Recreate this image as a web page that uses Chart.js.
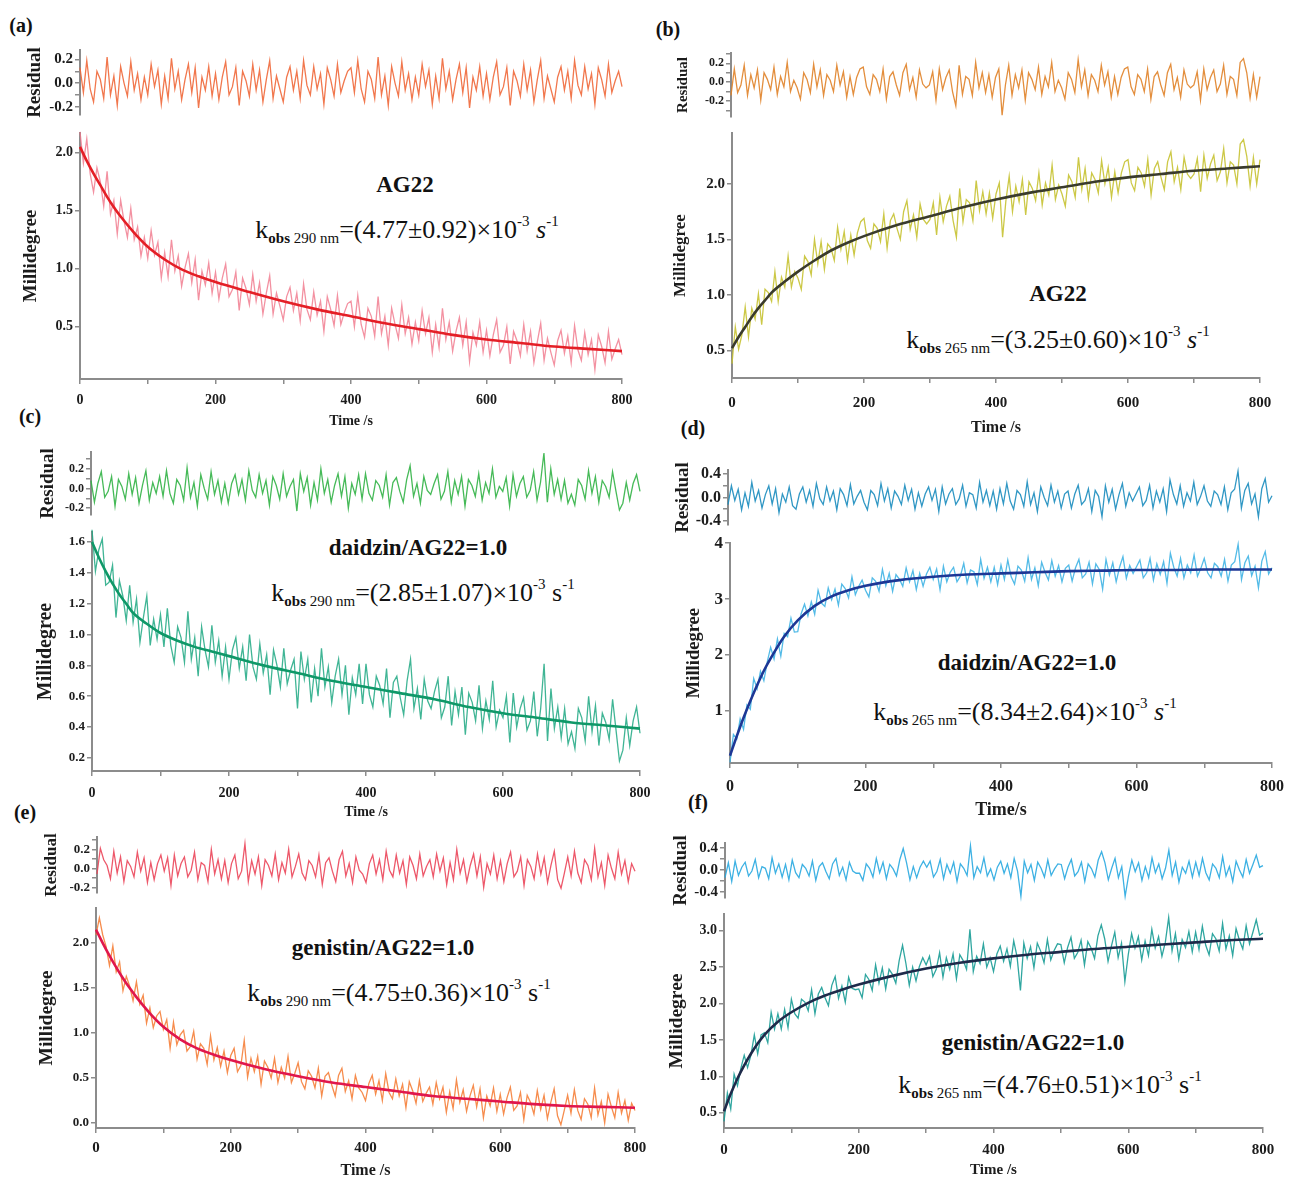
<!DOCTYPE html>
<html>
<head>
<meta charset="utf-8">
<script src="https://cdn.jsdelivr.net/npm/chart.js@4.4.1/dist/chart.umd.min.js"></script>
<style>
  body { margin: 0; background: #fff; }
  #fig { position: relative; width: 1291px; height: 1178px; background: #fff; overflow: hidden;
         font-family: 'Liberation Serif', 'Times New Roman', serif; color: #111; }
  #fig canvas { position: absolute; }
  .lab { position: absolute; font-weight: bold; font-size: 20px; transform: translate(-50%, -50%); }
  .note { position: absolute; white-space: nowrap; transform: translate(-50%, -50%); line-height: 1; }
  .name { font-weight: bold; font-size: 23px; }
  .kobs { font-size: 26px; }
  .kobs sub { font-size: 15px; vertical-align: -5px; line-height: 0; }
  .kobs sup { font-size: 15px; vertical-align: 12px; line-height: 0; }
</style>
</head>
<body>
<div id="fig">
  <div class="lab" style="left:21px;top:25px">(a)</div>
  <div class="lab" style="left:668px;top:29px">(b)</div>
  <div class="lab" style="left:30px;top:416px">(c)</div>
  <div class="lab" style="left:693px;top:428px">(d)</div>
  <div class="lab" style="left:25px;top:812px">(e)</div>
  <div class="lab" style="left:698px;top:802px">(f)</div>

  <div class="note name" style="left:405px;top:184px">AG22</div>
  <div class="note kobs" style="left:407px;top:230px">k<sub><b>obs</b> 290 nm</sub>=(4.77±0.92)×10<sup>-3</sup> <i>s</i><sup>-1</sup></div>

  <div class="note name" style="left:1058px;top:293px">AG22</div>
  <div class="note kobs" style="left:1058px;top:340px">k<sub><b>obs</b> 265 nm</sub>=(3.25±0.60)×10<sup>-3</sup> <i>s</i><sup>-1</sup></div>

  <div class="note name" style="left:418px;top:547px">daidzin/AG22=1.0</div>
  <div class="note kobs" style="left:423px;top:593px">k<sub><b>obs</b> 290 nm</sub>=(2.85±1.07)×10<sup>-3</sup> s<sup>-1</sup></div>

  <div class="note name" style="left:1027px;top:662px">daidzin/AG22=1.0</div>
  <div class="note kobs" style="left:1025px;top:712px">k<sub><b>obs</b> 265 nm</sub>=(8.34±2.64)×10<sup>-3</sup> <i>s</i><sup>-1</sup></div>

  <div class="note name" style="left:383px;top:947px">genistin/AG22=1.0</div>
  <div class="note kobs" style="left:399px;top:993px">k<sub><b>obs</b> 290 nm</sub>=(4.75±0.36)×10<sup>-3</sup> s<sup>-1</sup></div>

  <div class="note name" style="left:1033px;top:1042px">genistin/AG22=1.0</div>
  <div class="note kobs" style="left:1050px;top:1085px">k<sub><b>obs</b> 265 nm</sub>=(4.76±0.51)×10<sup>-3</sup> s<sup>-1</sup></div>
</div>

<script>
// time grid of the measured traces (s)
const TIME = [
  0,5,10,15,20,25,30,35,40,45,50,55,60,65,70,75,80,85,90,95,
  100,105,110,115,120,125,130,135,140,145,150,155,160,165,170,175,180,185,190,195,
  200,205,210,215,220,225,230,235,240,245,250,255,260,265,270,275,280,285,290,295,
  300,305,310,315,320,325,330,335,340,345,350,355,360,365,370,375,380,385,390,395,
  400,405,410,415,420,425,430,435,440,445,450,455,460,465,470,475,480,485,490,495,
  500,505,510,515,520,525,530,535,540,545,550,555,560,565,570,575,580,585,590,595,
  600,605,610,615,620,625,630,635,640,645,650,655,660,665,670,675,680,685,690,695,
  700,705,710,715,720,725,730,735,740,745,750,755,760,765,770,775,780,785,790,795,
  800
];
// time points of the fitted curves (s)
const FIT_TIME = [0,10,20,30,40,50,60,80,100,125,150,175,200,250,300,350,400,450,500,550,600,650,700,750,800];
const X_MAJOR = [0,200,400,600,800];
const X_MINOR = [100,300,500,700];

// (a) AG22, 290 nm
const A_DATA = [
  2.18,1.91,2.12,1.82,1.66,1.87,1.75,1.54,1.84,1.47,1.59,1.30,1.59,1.41,1.27,1.52,1.25,1.36,1.11,1.27,
  1.09,1.33,1.12,1.23,0.92,1.14,0.93,1.25,0.98,1.11,0.85,1.01,1.13,0.88,1.08,0.73,0.98,0.86,1.05,0.79,
  0.97,0.74,0.92,1.04,0.76,0.82,0.97,0.64,0.92,0.83,0.69,0.95,0.72,0.88,0.61,0.79,0.94,0.61,0.79,0.68,
  0.56,0.76,0.84,0.64,0.79,0.55,0.87,0.65,0.56,0.80,0.60,0.72,0.46,0.76,0.65,0.51,0.77,0.52,0.62,0.70,
  0.72,0.50,0.77,0.52,0.41,0.66,0.59,0.42,0.76,0.44,0.59,0.34,0.66,0.52,0.40,0.69,0.44,0.58,0.35,0.54,
  0.38,0.64,0.44,0.58,0.28,0.52,0.32,0.66,0.39,0.54,0.29,0.46,0.58,0.34,0.54,0.20,0.45,0.34,0.54,0.28,
  0.47,0.25,0.43,0.56,0.28,0.34,0.50,0.18,0.46,0.38,0.25,0.52,0.29,0.46,0.19,0.37,0.53,0.21,0.40,0.28,
  0.17,0.38,0.47,0.27,0.42,0.19,0.51,0.30,0.21,0.45,0.26,0.39,0.13,0.43,0.33,0.19,0.46,0.22,0.31,0.39,
  0.26
];
const A_RESID = [
  0.13,-0.08,0.19,-0.05,-0.16,0.10,0.03,-0.13,0.22,-0.10,0.06,-0.19,0.14,0.00,-0.11,0.18,-0.06,0.08,-0.14,0.05,
  -0.10,0.16,-0.03,0.11,-0.18,0.06,-0.13,0.21,-0.05,0.10,-0.14,0.03,0.16,-0.08,0.13,-0.21,0.05,-0.06,0.14,-0.11,
  0.08,-0.14,0.05,0.18,-0.10,-0.03,0.13,-0.19,0.10,0.02,-0.11,0.16,-0.06,0.11,-0.16,0.03,0.19,-0.13,0.06,-0.05,
  -0.16,0.05,0.14,-0.06,0.10,-0.13,0.19,-0.02,-0.10,0.14,-0.05,0.08,-0.18,0.13,0.03,-0.11,0.16,-0.08,0.02,0.10,
  0.13,-0.08,0.19,-0.05,-0.16,0.10,0.03,-0.13,0.22,-0.10,0.06,-0.19,0.14,0.00,-0.11,0.18,-0.06,0.08,-0.14,0.05,
  -0.10,0.16,-0.03,0.11,-0.18,0.06,-0.13,0.21,-0.05,0.10,-0.14,0.03,0.16,-0.08,0.13,-0.21,0.05,-0.06,0.14,-0.11,
  0.08,-0.14,0.05,0.18,-0.10,-0.03,0.13,-0.19,0.10,0.02,-0.11,0.16,-0.06,0.11,-0.16,0.03,0.19,-0.13,0.06,-0.05,
  -0.16,0.05,0.14,-0.06,0.10,-0.13,0.19,-0.02,-0.10,0.14,-0.05,0.08,-0.18,0.13,0.03,-0.11,0.16,-0.08,0.02,0.10,
  -0.03
];
const A_FIT = [2.05,1.93,1.82,1.72,1.62,1.53,1.45,1.31,1.19,1.08,0.995,0.935,0.885,0.80,0.72,0.65,0.59,0.53,0.48,0.43,0.39,0.36,0.33,0.31,0.29];

// (b) AG22, 265 nm
const B_DATA = [
  0.38,0.71,0.51,0.64,0.89,0.62,0.88,0.78,1.01,0.73,1.05,1.02,0.94,1.21,0.94,1.16,1.07,1.35,1.07,1.21,
  1.15,1.05,1.35,1.30,1.18,1.50,1.28,1.48,1.23,1.46,1.42,1.31,1.61,1.41,1.57,1.31,1.54,1.36,1.56,1.66,
  1.69,1.49,1.42,1.64,1.60,1.48,1.73,1.42,1.67,1.73,1.60,1.50,1.75,1.85,1.59,1.72,1.52,1.82,1.68,1.64,
  1.68,1.83,1.54,1.88,1.66,1.80,1.89,1.67,1.52,1.96,1.66,1.86,1.83,1.67,2.03,1.76,1.93,1.73,1.92,1.69,
  1.91,2.01,1.52,1.85,2.07,1.75,1.98,1.84,2.04,1.72,2.02,1.96,1.85,2.10,1.81,2.01,1.90,2.17,1.86,1.99,
  1.91,1.80,2.08,2.02,1.88,2.24,1.95,2.14,1.87,2.10,2.04,1.92,2.21,2.00,2.15,1.88,2.11,1.92,2.10,2.20,
  2.22,2.01,1.94,2.15,2.10,1.98,2.22,1.90,2.14,2.20,2.06,1.95,2.20,2.29,2.02,2.15,1.95,2.24,2.09,2.05,
  2.09,2.23,1.93,2.26,2.05,2.18,2.26,2.03,2.11,2.32,2.01,2.20,2.17,2.00,2.36,2.40,2.25,1.98,2.24,2.00,
  2.22
];
const B_RESID = [
  -0.14,0.14,-0.11,-0.03,0.18,-0.14,0.08,-0.06,0.13,-0.19,0.10,0.03,-0.08,0.16,-0.13,0.06,-0.05,0.21,-0.10,0.02,
  -0.06,-0.18,0.10,0.03,-0.11,0.19,-0.05,0.13,-0.14,0.08,0.02,-0.10,0.18,-0.03,0.11,-0.16,0.06,-0.13,0.05,0.14,
  0.16,-0.05,-0.13,0.08,0.03,-0.10,0.14,-0.18,0.06,0.11,-0.03,-0.14,0.10,0.19,-0.08,0.05,-0.16,0.13,-0.02,-0.06,
  -0.03,0.11,-0.19,0.14,-0.08,0.05,0.13,-0.10,-0.25,0.18,-0.13,0.06,0.03,-0.14,0.21,-0.06,0.10,-0.11,0.08,-0.16,
  0.05,0.14,-0.35,-0.03,0.18,-0.14,0.08,-0.06,0.13,-0.19,0.10,0.03,-0.08,0.16,-0.13,0.06,-0.05,0.21,-0.10,0.02,
  -0.06,-0.18,0.10,0.03,-0.11,0.24,-0.05,0.13,-0.14,0.08,0.02,-0.10,0.18,-0.03,0.11,-0.16,0.06,-0.13,0.05,0.14,
  0.16,-0.05,-0.13,0.08,0.03,-0.10,0.14,-0.18,0.06,0.11,-0.03,-0.14,0.10,0.19,-0.08,0.05,-0.16,0.13,-0.02,-0.06,
  -0.03,0.11,-0.19,0.14,-0.08,0.05,0.13,-0.10,-0.02,0.18,-0.13,0.06,0.03,-0.14,0.21,0.25,0.10,-0.17,0.08,-0.16,
  0.06
];
const B_FIT = [0.52,0.62,0.71,0.80,0.88,0.95,1.02,1.12,1.21,1.31,1.40,1.47,1.53,1.63,1.71,1.79,1.86,1.92,1.97,2.02,2.06,2.09,2.12,2.14,2.16];

// (c) daidzin/AG22 = 1.0, 290 nm
const C_DATA = [
  1.68,1.41,1.55,1.62,1.32,1.34,1.45,1.11,1.35,1.25,1.09,1.32,1.08,1.23,0.95,1.11,1.25,0.93,1.10,0.97,
  1.13,0.92,1.17,0.93,0.82,1.05,0.98,0.82,1.15,0.84,0.98,0.73,1.05,0.90,0.79,1.06,0.82,0.96,0.73,0.92,
  0.71,0.90,0.98,0.78,0.92,0.70,1.00,0.79,0.71,0.94,0.75,0.87,0.61,0.90,0.80,0.66,0.91,0.68,0.77,0.84,
  0.52,0.89,0.71,0.84,0.56,0.78,0.60,0.91,0.66,0.79,0.56,0.73,0.84,0.61,0.80,0.48,0.72,0.61,0.81,0.55,
  0.81,0.61,0.53,0.73,0.67,0.55,0.78,0.46,0.69,0.73,0.59,0.48,0.70,0.84,0.52,0.65,0.45,0.71,0.57,0.52,
  0.63,0.71,0.46,0.53,0.73,0.41,0.63,0.48,0.66,0.35,0.62,0.56,0.44,0.67,0.39,0.57,0.45,0.70,0.40,0.51,
  0.46,0.60,0.30,0.62,0.40,0.52,0.59,0.38,0.44,0.63,0.34,0.52,0.81,0.31,0.65,0.39,0.53,0.33,0.52,0.29,
  0.37,0.26,0.52,0.46,0.31,0.60,0.37,0.54,0.28,0.49,0.43,0.32,0.58,0.38,0.18,0.25,0.46,0.28,0.44,0.53,
  0.36
];
const C_RESID = [
  0.08,-0.14,0.05,0.17,-0.09,-0.03,0.12,-0.18,0.09,0.02,-0.11,0.15,-0.06,0.11,-0.15,0.03,0.18,-0.12,0.06,-0.05,
  0.12,-0.08,0.18,-0.05,-0.15,0.09,0.03,-0.12,0.21,-0.09,0.06,-0.18,0.14,0.00,-0.11,0.17,-0.06,0.08,-0.14,0.05,
  -0.15,0.05,0.14,-0.06,0.09,-0.12,0.18,-0.02,-0.09,0.14,-0.05,0.08,-0.17,0.12,0.03,-0.11,0.15,-0.08,0.02,0.09,
  -0.23,0.15,-0.03,0.11,-0.17,0.06,-0.12,0.20,-0.05,0.09,-0.14,0.03,0.15,-0.08,0.12,-0.20,0.05,-0.06,0.14,-0.11,
  0.15,-0.05,-0.12,0.08,0.03,-0.09,0.14,-0.17,0.06,0.11,-0.03,-0.14,0.09,0.23,-0.08,0.05,-0.15,0.12,-0.02,-0.06,
  0.05,0.14,-0.11,-0.03,0.17,-0.14,0.08,-0.06,0.12,-0.18,0.09,0.03,-0.08,0.15,-0.12,0.06,-0.05,0.20,-0.09,0.02,
  -0.03,0.11,-0.18,0.14,-0.08,0.05,0.12,-0.09,-0.02,0.17,-0.12,0.06,0.36,-0.14,0.20,-0.06,0.09,-0.11,0.08,-0.15,
  -0.06,-0.17,0.09,0.03,-0.11,0.18,-0.05,0.12,-0.14,0.08,0.02,-0.09,0.17,-0.03,-0.22,-0.15,0.06,-0.12,0.05,0.14,
  -0.03
];
const C_FIT = [1.60,1.50,1.41,1.33,1.26,1.20,1.14,1.07,1.01,0.96,0.92,0.89,0.86,0.80,0.75,0.70,0.66,0.62,0.58,0.53,0.49,0.46,0.43,0.41,0.39];

// (d) daidzin/AG22 = 1.0, 265 nm
const D_DATA = [
  0.08,0.58,0.50,0.86,0.67,1.11,1.03,1.58,1.40,1.71,1.54,1.88,2.14,1.93,2.29,1.98,2.39,2.33,2.66,2.41,
  2.42,2.74,2.91,2.70,2.95,2.73,3.16,2.93,2.87,3.20,2.99,3.18,2.89,3.27,3.19,3.02,3.40,3.08,3.23,3.34,
  3.16,3.04,3.38,3.32,3.14,3.53,3.24,3.46,3.14,3.44,3.36,3.23,3.56,3.31,3.51,3.17,3.46,3.23,3.45,3.57,
  3.35,3.54,3.17,3.59,3.31,3.48,3.57,3.31,3.41,3.64,3.29,3.52,3.49,3.26,3.71,3.37,3.57,3.31,3.57,3.26,
  3.61,3.35,3.70,3.40,3.27,3.59,3.52,3.32,3.74,3.35,3.56,3.24,3.66,3.48,3.34,3.69,3.41,3.60,3.31,3.55,
  3.61,3.32,3.56,3.71,3.38,3.45,3.66,3.27,3.63,3.53,3.18,3.71,3.43,3.65,3.31,3.57,3.76,3.37,3.60,3.46,
  3.58,3.70,3.38,3.47,3.73,3.34,3.63,3.44,3.67,3.28,3.82,3.57,3.41,3.73,3.38,3.61,3.47,3.79,3.41,3.55,
  3.73,3.47,3.38,3.64,3.58,3.41,3.71,3.32,3.61,3.67,3.98,3.35,3.65,3.77,3.42,3.59,3.20,3.68,3.85,3.45,
  3.56
];
const D_RESID = [
  -0.12,0.20,-0.05,0.14,-0.21,0.08,-0.15,0.26,-0.06,0.12,-0.18,0.05,0.20,-0.11,0.15,-0.26,0.06,-0.08,0.18,-0.14,
  -0.20,0.06,0.18,-0.08,0.12,-0.15,0.24,-0.02,-0.12,0.18,-0.06,0.11,-0.21,0.15,0.05,-0.14,0.22,-0.11,0.02,0.12,
  -0.08,-0.21,0.12,0.05,-0.14,0.24,-0.06,0.15,-0.18,0.11,0.02,-0.12,0.21,-0.05,0.14,-0.20,0.08,-0.15,0.06,0.18,
  -0.05,0.14,-0.24,0.18,-0.11,0.06,0.15,-0.12,-0.02,0.21,-0.15,0.08,0.05,-0.18,0.26,-0.08,0.12,-0.14,0.11,-0.20,
  0.15,-0.11,0.24,-0.06,-0.20,0.12,0.05,-0.15,0.27,-0.12,0.08,-0.24,0.18,0.00,-0.14,0.21,-0.08,0.11,-0.18,0.06,
  0.11,-0.18,0.06,0.21,-0.12,-0.05,0.15,-0.24,0.12,0.02,-0.33,0.20,-0.08,0.14,-0.20,0.05,0.24,-0.15,0.08,-0.06,
  0.06,0.18,-0.14,-0.05,0.21,-0.18,0.11,-0.08,0.15,-0.24,0.30,0.05,-0.11,0.20,-0.15,0.08,-0.06,0.26,-0.12,0.02,
  0.20,-0.06,-0.15,0.11,0.05,-0.12,0.18,-0.21,0.08,0.14,0.45,-0.18,0.12,0.24,-0.11,0.06,-0.33,0.15,0.32,-0.08,
  0.03
];
const D_FIT = [0.20,0.55,0.88,1.18,1.46,1.72,1.94,2.33,2.62,2.88,3.05,3.16,3.24,3.34,3.40,3.44,3.46,3.48,3.50,3.51,3.52,3.52,3.53,3.53,3.53];

// (e) genistin/AG22 = 1.0, 290 nm
const E_DATA = [
  2.09,2.28,2.09,1.96,1.75,1.97,1.68,1.79,1.47,1.63,1.52,1.36,1.57,1.32,1.42,1.11,1.28,1.06,1.19,1.24,
  1.04,1.15,0.83,1.12,0.87,0.98,1.03,0.80,0.85,1.02,0.71,0.88,0.83,0.65,0.97,0.70,0.84,0.63,0.80,0.56,
  0.75,0.83,0.57,0.64,0.92,0.51,0.72,0.57,0.74,0.43,0.69,0.62,0.50,0.72,0.45,0.62,0.50,0.74,0.45,0.55,
  0.67,0.46,0.38,0.58,0.52,0.39,0.61,0.30,0.52,0.56,0.42,0.30,0.53,0.61,0.35,0.47,0.27,0.53,0.39,0.34,
  0.25,0.44,0.53,0.32,0.47,0.25,0.55,0.34,0.27,0.49,0.30,0.43,0.17,0.46,0.36,0.22,0.47,0.24,0.33,0.40,
  0.21,0.45,0.27,0.40,0.12,0.35,0.16,0.48,0.23,0.37,0.13,0.30,0.42,0.18,0.38,0.06,0.30,0.19,0.39,0.13,
  0.32,0.10,0.28,0.40,0.14,0.19,0.34,0.04,0.31,0.23,0.10,0.36,0.15,0.31,0.05,0.23,0.38,0.08,-0.02,0.14,
  0.31,0.11,0.37,0.14,0.04,0.27,0.21,0.06,0.39,0.09,0.24,0.00,0.32,0.18,0.06,0.34,0.11,0.25,0.03,0.22,
  0.14
];
const E_RESID = [
  -0.06,0.21,0.09,0.03,-0.11,0.18,-0.05,0.12,-0.14,0.08,0.02,-0.09,0.17,-0.03,0.11,-0.15,0.06,-0.12,0.05,0.14,
  -0.03,0.11,-0.18,0.14,-0.08,0.05,0.12,-0.09,-0.02,0.17,-0.12,0.06,0.03,-0.14,0.20,-0.06,0.09,-0.11,0.08,-0.15,
  0.05,0.14,-0.11,-0.03,0.26,-0.14,0.08,-0.06,0.12,-0.18,0.09,0.03,-0.08,0.15,-0.12,0.06,-0.05,0.20,-0.09,0.02,
  0.15,-0.05,-0.12,0.08,0.03,-0.09,0.14,-0.17,0.06,0.11,-0.03,-0.14,0.09,0.18,-0.08,0.05,-0.15,0.12,-0.02,-0.06,
  -0.15,0.05,0.14,-0.06,0.09,-0.12,0.18,-0.02,-0.09,0.14,-0.05,0.08,-0.17,0.12,0.03,-0.11,0.15,-0.08,0.02,0.09,
  -0.09,0.15,-0.03,0.11,-0.17,0.06,-0.12,0.20,-0.05,0.09,-0.14,0.03,0.15,-0.08,0.12,-0.20,0.05,-0.06,0.14,-0.11,
  0.08,-0.14,0.05,0.17,-0.09,-0.03,0.12,-0.18,0.09,0.02,-0.11,0.15,-0.06,0.11,-0.15,0.03,0.18,-0.12,-0.21,-0.05,
  0.12,-0.08,0.18,-0.05,-0.15,0.09,0.03,-0.12,0.21,-0.09,0.06,-0.18,0.14,0.00,-0.11,0.17,-0.06,0.08,-0.14,0.05,
  -0.03
];
const E_FIT = [2.15,2.00,1.86,1.73,1.61,1.50,1.40,1.22,1.07,0.93,0.83,0.76,0.70,0.60,0.52,0.45,0.40,0.35,0.30,0.27,0.24,0.21,0.19,0.18,0.17];

// (f) genistin/AG22 = 1.0, 265 nm
const F_DATA = [
  0.38,0.77,0.55,1.03,0.87,1.11,1.29,1.12,1.29,1.57,1.31,1.57,1.60,1.46,1.88,1.65,1.86,1.65,1.92,1.67,
  2.06,1.86,1.80,2.06,2.02,1.90,2.19,1.86,2.13,2.22,2.08,1.97,2.25,2.37,2.07,2.24,2.02,2.36,2.21,2.19,
  2.20,2.08,2.40,2.33,2.18,2.53,2.28,2.49,2.20,2.47,2.40,2.28,2.59,2.80,2.55,2.25,2.50,2.31,2.51,2.63,
  2.53,2.65,2.37,2.47,2.70,2.36,2.63,2.47,2.68,2.34,2.67,2.59,2.47,3.02,2.44,2.65,2.55,2.82,2.50,2.63,
  2.44,2.68,2.79,2.58,2.75,2.51,2.86,2.64,2.18,2.83,2.62,2.78,2.49,2.83,2.72,2.56,2.88,2.60,2.73,2.82,
  2.81,2.56,2.77,2.91,2.62,2.70,2.87,2.53,2.85,2.76,2.62,2.93,3.08,2.89,2.58,2.79,2.98,2.63,2.83,2.30,
  2.67,2.96,2.76,2.92,2.60,2.86,2.66,3.02,2.76,2.92,2.65,2.84,3.18,2.72,2.96,2.61,2.88,2.77,2.99,2.71,
  2.98,2.74,3.06,2.80,2.67,2.96,2.89,2.72,3.10,2.75,2.93,2.66,3.03,2.87,2.75,3.07,2.82,2.98,3.15,2.94,
  2.97
];
const F_RESID = [
  -0.14,0.13,-0.21,0.16,-0.10,0.05,0.14,-0.11,-0.02,0.19,-0.14,0.06,0.03,-0.16,0.22,-0.06,0.11,-0.13,0.10,-0.18,
  0.18,-0.05,-0.14,0.10,0.03,-0.11,0.16,-0.19,0.06,0.13,-0.03,-0.16,0.11,0.21,-0.10,0.05,-0.18,0.14,-0.02,-0.06,
  -0.06,-0.19,0.11,0.03,-0.13,0.21,-0.05,0.14,-0.16,0.10,0.02,-0.11,0.19,0.39,0.13,-0.18,0.06,-0.14,0.05,0.16,
  0.05,0.16,-0.13,-0.03,0.19,-0.16,0.10,-0.06,0.14,-0.21,0.11,0.03,-0.10,0.44,-0.14,0.06,-0.05,0.22,-0.11,0.02,
  -0.18,0.05,0.16,-0.06,0.11,-0.14,0.21,-0.02,-0.48,0.16,-0.05,0.10,-0.19,0.14,0.03,-0.13,0.18,-0.10,0.02,0.11,
  0.10,-0.16,0.05,0.19,-0.11,-0.03,0.14,-0.21,0.11,0.02,-0.13,0.18,0.33,0.13,-0.18,0.03,0.21,-0.14,0.06,-0.48,
  -0.11,0.18,-0.03,0.13,-0.19,0.06,-0.14,0.22,-0.05,0.11,-0.16,0.03,0.36,-0.10,0.14,-0.22,0.05,-0.06,0.16,-0.13,
  0.14,-0.10,0.21,-0.05,-0.18,0.11,0.03,-0.14,0.24,-0.11,0.06,-0.21,0.16,0.00,-0.13,0.19,-0.06,0.10,0.27,0.05,
  0.08
];
const F_FIT = [0.52,0.76,0.97,1.15,1.31,1.45,1.57,1.75,1.88,2.01,2.11,2.19,2.26,2.38,2.48,2.56,2.62,2.67,2.71,2.75,2.78,2.81,2.84,2.87,2.89];

const fig = document.getElementById("fig");
const AXIS = "#8c8c8c";
const INK = "#1c1c1c";
const SERIF = "'Liberation Serif', 'Times New Roman', serif";

function pts(times, values) {
  return times.map((t, i) => ({ x: t, y: values[i] }));
}
function tickList(major, minor) {
  return major.concat(minor).sort((a, b) => a - b).map(v => ({ value: v }));
}
function isMajor(list, v) {
  return list.some(m => Math.abs(m - v) < 1e-6);
}
function trace(values, color) {
  return { data: pts(TIME, values), borderColor: color, borderWidth: 1.3, clip: false };
}
function fitLine(values, color) {
  return { data: pts(FIT_TIME, values), borderColor: color, borderWidth: 2.6, cubicInterpolationMode: "monotone", clip: false };
}

function makePlot(p) {
  const LW = Math.round(p.titleGap + p.yTitleSize * 0.6);
  const PT = 12, PR = 24;
  const PB = p.x ? Math.round(p.x.titleY - p.B + p.x.titleSize * 0.6) : 12;
  const w = p.R - p.L + LW + PR;
  const h = p.B - p.T + PT + PB;
  const cv = document.createElement("canvas");
  cv.width = w;
  cv.height = h;
  cv.style.left = (p.L - LW) + "px";
  cv.style.top = (p.T - PT) + "px";
  fig.appendChild(cv);

  const xScale = { type: "linear", min: 0, max: 800, display: false };
  if (p.x) {
    Object.assign(xScale, {
      display: true,
      afterBuildTicks: s => { s.ticks = tickList(X_MAJOR, X_MINOR); },
      afterFit: s => { s.height = PB; },
      border: { color: AXIS, width: 2 },
      grid: { drawOnChartArea: false, color: AXIS, lineWidth: 1.5, tickLength: 5 },
      ticks: {
        autoSkip: false, maxRotation: 0, color: INK,
        padding: Math.max(0, Math.round(p.x.tickY - p.B - 5 - p.x.tickSize * 0.6)),
        font: { family: SERIF, weight: "bold", size: p.x.tickSize },
        callback: v => isMajor(X_MAJOR, v) ? String(v) : ""
      },
      title: { display: true, text: p.x.title, color: INK, padding: 0,
               font: { family: SERIF, weight: "bold", size: p.x.titleSize } }
    });
  }

  new Chart(cv, {
    type: "line",
    data: { datasets: p.datasets },
    options: {
      responsive: false,
      animation: false,
      events: [],
      layout: { padding: { top: PT, right: PR, left: 0, bottom: p.x ? 0 : PB } },
      plugins: { legend: { display: false }, tooltip: { enabled: false } },
      elements: { point: { radius: 0 }, line: { tension: 0 } },
      scales: {
        x: xScale,
        y: {
          type: "linear", min: p.yMin, max: p.yMax,
          afterBuildTicks: s => { s.ticks = tickList(p.yMajor, p.yMinor); },
          afterFit: s => { s.width = LW; },
          border: { color: AXIS, width: 2 },
          grid: { drawOnChartArea: false, color: AXIS, lineWidth: 1.5, tickLength: 5 },
          ticks: {
            autoSkip: false, color: INK, padding: 2,
            font: { family: SERIF, weight: "bold", size: p.yTickSize },
            callback: v => isMajor(p.yMajor, v) ? v.toFixed(p.yDigits) : ""
          },
          title: { display: true, text: p.yTitle, color: INK, padding: 0,
                   font: { family: SERIF, weight: "bold", size: p.yTitleSize } }
        }
      }
    }
  });
}

// ---- (a)
makePlot({ L: 80, R: 622, T: 50, B: 115, yMin: -0.27, yMax: 0.28,
  yMajor: [-0.2, 0, 0.2], yMinor: [-0.1, 0.1], yDigits: 1, yTickSize: 15,
  yTitle: "Residual", yTitleSize: 19, titleGap: 45,
  datasets: [trace(A_RESID, "rgba(240,104,58,0.9)")] });
makePlot({ L: 80, R: 622, T: 133, B: 379, yMin: 0.05, yMax: 2.17,
  yMajor: [0.5, 1.0, 1.5, 2.0], yMinor: [], yDigits: 1, yTickSize: 14,
  yTitle: "Millidegree", yTitleSize: 19, titleGap: 49,
  x: { tickSize: 14, tickY: 400, title: "Time /s", titleSize: 14, titleY: 422 },
  datasets: [fitLine(A_FIT, "#e41f26"), trace(A_DATA, "rgba(240,118,138,0.8)")] });

// ---- (b)
makePlot({ L: 731, R: 1260, T: 53, B: 117, yMin: -0.37, yMax: 0.31,
  yMajor: [-0.2, 0, 0.2], yMinor: [-0.3, -0.1, 0.1, 0.3], yDigits: 1, yTickSize: 12,
  yTitle: "Residual", yTitleSize: 15, titleGap: 48,
  datasets: [trace(B_RESID, "rgba(224,130,40,0.9)")] });
makePlot({ L: 732, R: 1260, T: 133, B: 378, yMin: 0.25, yMax: 2.46,
  yMajor: [0.5, 1.0, 1.5, 2.0], yMinor: [], yDigits: 1, yTickSize: 15,
  yTitle: "Millidegree", yTitleSize: 17, titleGap: 52,
  x: { tickSize: 15, tickY: 403, title: "Time /s", titleSize: 16, titleY: 427 },
  datasets: [fitLine(B_FIT, "#3a3b2c"), trace(B_DATA, "rgba(198,194,50,0.9)")] });

// ---- (c)
makePlot({ L: 91, R: 640, T: 452, B: 515, yMin: -0.27, yMax: 0.37,
  yMajor: [-0.2, 0, 0.2], yMinor: [-0.1, 0.1, 0.3], yDigits: 1, yTickSize: 12,
  yTitle: "Residual", yTitleSize: 19, titleGap: 43,
  datasets: [trace(C_RESID, "rgba(50,178,70,0.9)")] });
makePlot({ L: 92, R: 640, T: 532, B: 771, yMin: 0.115, yMax: 1.665,
  yMajor: [0.2, 0.4, 0.6, 0.8, 1.0, 1.2, 1.4, 1.6], yMinor: [], yDigits: 1, yTickSize: 13,
  yTitle: "Millidegree", yTitleSize: 20, titleGap: 46,
  x: { tickSize: 14, tickY: 793, title: "Time /s", titleSize: 14, titleY: 813 },
  datasets: [fitLine(C_FIT, "#0f9868"), trace(C_DATA, "rgba(30,168,130,0.85)")] });

// ---- (d)
makePlot({ L: 728, R: 1272, T: 470, B: 525, yMin: -0.47, yMax: 0.47,
  yMajor: [-0.4, 0, 0.4], yMinor: [-0.2, 0.2], yDigits: 1, yTickSize: 16,
  yTitle: "Residual", yTitleSize: 19, titleGap: 45,
  datasets: [trace(D_RESID, "rgba(25,140,190,0.9)")] });
makePlot({ L: 730, R: 1272, T: 543, B: 763, yMin: 0.07, yMax: 4.0,
  yMajor: [1, 2, 3, 4], yMinor: [], yDigits: 0, yTickSize: 17,
  yTitle: "Millidegree", yTitleSize: 18.5, titleGap: 36,
  x: { tickSize: 16, tickY: 787, title: "Time/s", titleSize: 18, titleY: 810 },
  datasets: [fitLine(D_FIT, "#1d3795"), trace(D_DATA, "rgba(64,180,228,0.9)")] });

// ---- (e)
makePlot({ L: 97, R: 635, T: 837, B: 893, yMin: -0.26, yMax: 0.33,
  yMajor: [-0.2, 0, 0.2], yMinor: [-0.1, 0.1, 0.3], yDigits: 1, yTickSize: 13,
  yTitle: "Residual", yTitleSize: 17, titleGap: 46,
  datasets: [trace(E_RESID, "rgba(235,70,90,0.9)")] });
makePlot({ L: 96, R: 635, T: 908, B: 1128, yMin: -0.055, yMax: 2.39,
  yMajor: [0, 0.5, 1.0, 1.5, 2.0], yMinor: [], yDigits: 1, yTickSize: 13,
  yTitle: "Millidegree", yTitleSize: 19.5, titleGap: 49,
  x: { tickSize: 15, tickY: 1148, title: "Time /s", titleSize: 16, titleY: 1170 },
  datasets: [fitLine(E_FIT, "#e0174c"), trace(E_DATA, "rgba(245,128,58,0.9)")] });

// ---- (f)
makePlot({ L: 725, R: 1263, T: 843, B: 898, yMin: -0.51, yMax: 0.49,
  yMajor: [-0.4, 0, 0.4], yMinor: [-0.2, 0.2], yDigits: 1, yTickSize: 15,
  yTitle: "Residual", yTitleSize: 19, titleGap: 44,
  datasets: [trace(F_RESID, "rgba(40,168,224,0.9)")] });
makePlot({ L: 724, R: 1263, T: 914, B: 1128, yMin: 0.29, yMax: 3.23,
  yMajor: [0.5, 1.0, 1.5, 2.0, 2.5, 3.0], yMinor: [], yDigits: 1, yTickSize: 14,
  yTitle: "Millidegree", yTitleSize: 19.5, titleGap: 47,
  x: { tickSize: 15, tickY: 1150, title: "Time /s", titleSize: 15, titleY: 1170 },
  datasets: [fitLine(F_FIT, "#1e2a4a"), trace(F_DATA, "rgba(24,156,150,0.9)")] });
</script>
</body>
</html>
